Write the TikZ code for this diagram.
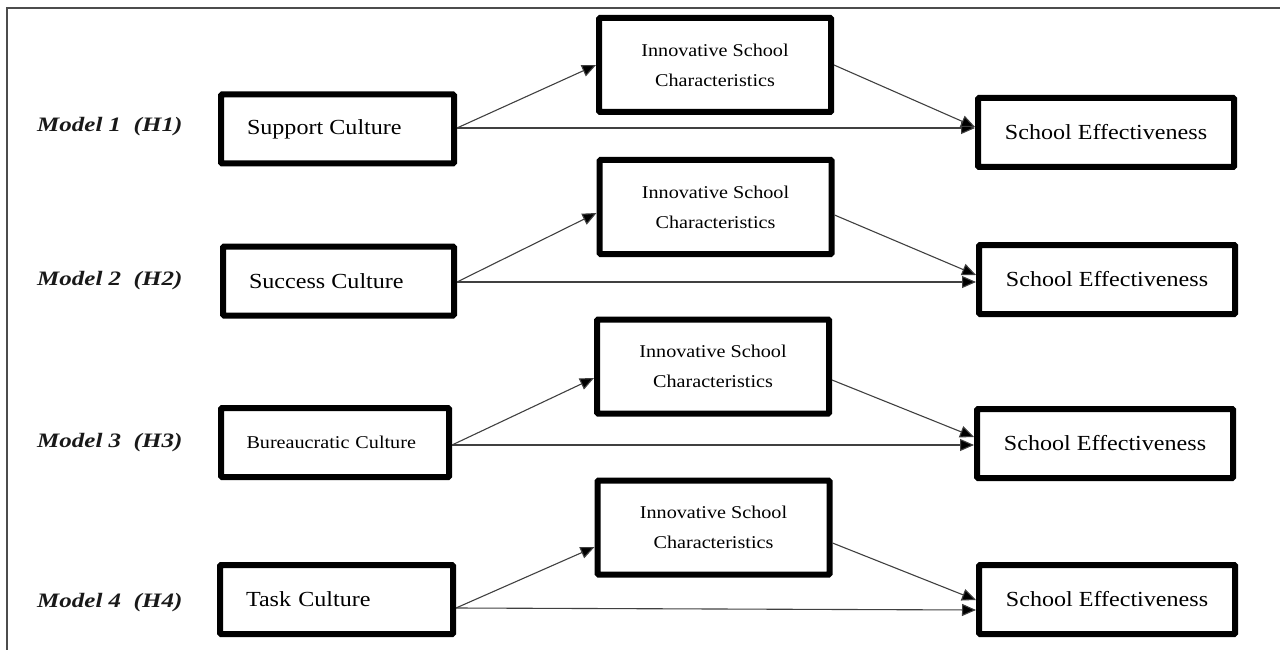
\documentclass[tikz,border=0pt]{standalone}
\usepackage{fontspec}
\setmainfont{Liberation Serif}[FakeStretch=1.12]
\newfontfamily\modelfont{Liberation Serif}[FakeStretch=1.22]
\usetikzlibrary{arrows.meta,calc}
\begin{document}
\begin{tikzpicture}[x=1pt,y=-1pt,
  box/.style={draw=black,line width=6pt,rectangle,rounded corners=1pt,fill=white,inner ysep=0pt},
  lbox/.style={box,minimum height=69pt,inner xsep=26pt,align=left,font=\fontsize{21.5}{24}\selectfont},
  ibox/.style={box,minimum width=232pt,minimum height=94pt,inner xsep=0pt,align=center,font=\fontsize{18}{30}\selectfont},
  sebox/.style={box,minimum width=256pt,minimum height=69pt,inner xsep=0pt,align=center,font=\fontsize{21.5}{24}\selectfont},
  model/.style={font=\modelfont\bfseries\itshape\fontsize{20.5}{22}\selectfont,inner sep=0pt,anchor=west,text=black!90},
  arr/.style={draw=black!75,line width=1.1pt,-{Triangle[length=14pt,width=12pt,fill=black]}},
  frame/.style={draw=black!70,line width=1.5pt}
]
\useasboundingbox (0,0) rectangle (1280,650);
% frame
\coordinate (ftl) at (7,8);
\coordinate (ftr) at (1281,8);
\coordinate (fbl) at (7,651);
\draw[frame] (fbl) -- (ftl) -- (ftr);

% model labels
\node[model] (m1) at (37,127) {Model 1 ~(H1)};
\node[model] (m2) at (37,281) {Model 2 ~(H2)};
\node[model] (m3) at (37,443) {Model 3 ~(H3)};
\node[model] (m4) at (37,603) {Model 4 ~(H4)};

% row 1
\node[lbox,text width=181pt] (sc) at (337.5,129) {Support\kern-1pt{} Culture};
\node[ibox] (i1) at (715,65) {Innovative School\\Characteristics};
\node[sebox] (se1) at (1106,132.5) {School Effectiveness};
% row 2
\node[lbox,text width=179pt] (suc) at (338.5,281) {Success\kern-1pt{} Culture};
\node[ibox] (i2) at (715.5,207) {Innovative School\\Characteristics};
\node[sebox] (se2) at (1107,279.5) {School Effectiveness};
% row 3
\node[lbox,text width=177pt,inner xsep=25.5pt,font=\fontsize{18}{22}\selectfont] (bur) at (335,442.5) {Bureaucratic Culture};
\node[ibox] (i3) at (713,366.5) {Innovative School\\Characteristics};
\node[sebox] (se3) at (1105,443.5) {School Effectiveness};
% row 4
\node[lbox,text width=181pt] (task) at (336.5,599.5) {Task Culture};
\node[ibox] (i4) at (713.5,527.5) {Innovative School\\Characteristics};
\node[sebox] (se4) at (1107,599.5) {School Effectiveness};

% connectors row 1
\draw[arr] ($(sc.east)+(0,-1)$) -- ($(i1.west)+(0,0)$);
\draw[arr] ($(sc.east)+(0,-1)$) -- ($(se1.west)+(0,-4.5)$);
\draw[arr] ($(i1.east)+(0,0)$) -- ($(se1.west)+(0,-5.5)$);
% row 2
\draw[arr] ($(suc.east)+(0,1)$) -- ($(i2.west)+(0,6)$);
\draw[arr] ($(suc.east)+(0,1)$) -- ($(se2.west)+(0,2.5)$);
\draw[arr] ($(i2.east)+(0,8)$) -- ($(se2.west)+(0,-4.5)$);
% row 3
\draw[arr] ($(bur.east)+(0,2.5)$) -- ($(i3.west)+(0,11.5)$);
\draw[arr] ($(bur.east)+(0,2.5)$) -- ($(se3.west)+(0,1.5)$);
\draw[arr] ($(i3.east)+(0,13.5)$) -- ($(se3.west)+(0,-6.5)$);
% row 4
\draw[arr] ($(task.east)+(0,8.5)$) -- ($(i4.west)+(0,19.5)$);
\draw[arr] ($(task.east)+(0,8.5)$) -- ($(se4.west)+(0,10.5)$);
\draw[arr] ($(i4.east)+(0,15.5)$) -- ($(se4.west)+(0,0.5)$);
\end{tikzpicture}
\end{document}
